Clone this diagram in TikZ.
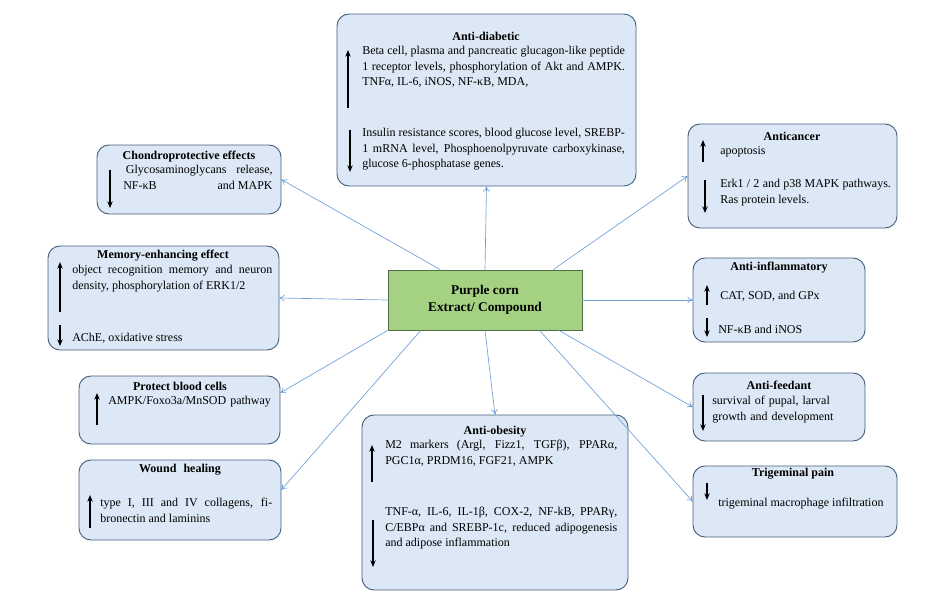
\documentclass[tikz,border=0pt]{standalone}
\usepackage{fontspec}
\setmainfont{Liberation Serif}
\usetikzlibrary{arrows.meta,calc}
\definecolor{boxfill}{RGB}{220,232,245}
\definecolor{boxline}{RGB}{70,95,125}
\definecolor{cfill}{RGB}{165,210,130}
\definecolor{cline}{RGB}{80,110,70}
\definecolor{conn}{RGB}{110,160,215}
\tikzset{
 bx/.style={draw=boxline,fill=boxfill,rounded corners=9pt,line width=0.7pt},
 ttl/.style={font=\fontsize{9}{11.6}\selectfont\bfseries,inner sep=0pt},
 txt/.style={font=\fontsize{9}{11.6}\selectfont,inner sep=0pt,align=justify,anchor=north west},
 ar/.style={-{Stealth[length=5pt,width=4pt]},line width=1.1pt,black},
 cn/.style={draw=conn,line width=0.5pt,-{To[length=4pt,width=5pt]}}
}
\begin{document}
\begin{tikzpicture}[x=0.75pt,y=-0.75pt]
\useasboundingbox (0,0) rectangle (936,597);
% boxes
\path[bx] (337,14) rectangle (636,186) coordinate[pos=0.5] (diabc);
\node[inner sep=0,minimum width=224.25pt,minimum height=129pt] (diab) at (486.5,100) {};
\path[bx] (97,145) rectangle (281,214);
\node[inner sep=0,minimum width=138pt,minimum height=51.75pt] (chon) at (189,179.5) {};
\path[bx] (48,246) rectangle (279,350);
\node[inner sep=0,minimum width=173.25pt,minimum height=78pt] (mem) at (163.5,298) {};
\path[bx] (79,376) rectangle (280,444);
\node[inner sep=0,minimum width=150.75pt,minimum height=51pt] (prot) at (179.5,410) {};
\path[bx] (79,460) rectangle (281,540);
\node[inner sep=0,minimum width=151.5pt,minimum height=60pt] (wound) at (180,500) {};
\path[bx] (362,415) rectangle (628,590);
\node[inner sep=0,minimum width=199.5pt,minimum height=131.25pt] (obes) at (495,502.5) {};
\path[bx] (688,124) rectangle (897,228);
\node[inner sep=0,minimum width=156.75pt,minimum height=78pt] (canc) at (792.5,176) {};
\path[bx] (693,258) rectangle (865,342);
\node[inner sep=0,minimum width=129pt,minimum height=63pt] (infl) at (779,300) {};
\path[bx] (693,373) rectangle (865,441);
\node[inner sep=0,minimum width=129pt,minimum height=51pt] (feed) at (779,407) {};
\path[bx] (693,466) rectangle (897,537);
\node[inner sep=0,minimum width=153pt,minimum height=53.25pt] (trig) at (795,501.5) {};
% center
\node[draw=cline,fill=cfill,line width=0.7pt,minimum width=145.5pt,minimum height=45pt,align=center,font=\fontsize{10}{13}\selectfont\bfseries] (c) at (485,300) {Purple corn\\Extract/ Compound};
% connectors
\draw[cn] (c.north) -- (diab.south);
\draw[cn] ($(c.north west)!0.27!(c.north east)$) -- (chon.east);
\draw[cn] (c.west) -- (mem.east);
\draw[cn] (c.south west) -- ($(prot.north east)!0.25!(prot.south east)$);
\draw[cn] ($(c.south west)!0.17!(c.south east)$) -- ($(wound.north east)!0.375!(wound.south east)$);
\draw[cn] (c.south) -- (obes.north);
\draw[cn] ($(c.north west)!0.85!(c.north east)$) -- (canc.west);
\draw[cn] (c.east) -- (infl.west);
\draw[cn] ($(c.south west)!0.88!(c.south east)$) -- (feed.west);
\draw[cn] ($(c.south west)!0.78!(c.south east)$) -- (trig.west);
% Anti-diabetic
\node[ttl] at (486,36) {Anti-diabetic};
\node[txt,text width=197pt] at (362,46) {Beta cell, plasma and pancreatic glucagon-like peptide 1 receptor levels, phosphorylation of Akt and AMPK. TNFα, IL-6, iNOS, NF-κB, MDA,};
\node[txt,text width=197pt] at (362,128) {Insulin resistance scores, blood glucose level, SREBP-1 mRNA level, Phosphoenolpyruvate carboxykinase, glucose 6-phosphatase genes.};
\draw[ar] (348,108) -- (348,50);
\draw[ar] (350,130) -- (350,172);
% Chondro
\node[ttl] at (189,157) {Chondroprotective effects};
\node[txt,text width=112pt] at (123,165) {\hspace*{2pt}Glycosaminoglycans release,\hfill NF-κB\hfill and MAPK};
\draw[ar] (110,170) -- (110,208);
% Memory
\node[ttl] at (163,256) {Memory-enhancing effect};
\node[txt,text width=150pt] at (72,265) {object recognition memory and neuron density, phosphorylation of ERK1/2};
\node[txt,text width=150pt] at (72,333) {AChE, oxidative stress};
\draw[ar] (60,312) -- (60,262);
\draw[ar] (60,325) -- (60,346);
% Protect
\node[ttl] at (180,386) {Protect blood cells};
\node[txt,text width=130pt,align=left] at (108,396) {AMPK/Foxo3a/MnSOD pathway};
\draw[ar] (97,425) -- (97,393);
% Wound
\node[ttl] at (180,470) {Wound\hspace{3pt} healing};
\node[txt,text width=129pt] at (100,498) {type I, III and IV collagens, fibronectin and laminins};
\draw[ar] (90,528) -- (90,495);
% Obesity
\node[ttl] at (495,432) {Anti-obesity};
\node[txt,text width=174pt] at (385,440) {M2 markers (Argl, Fizz1, TGFβ), PPARα, PGC1α, PRDM16, FGF21, AMPK};
\node[txt,text width=174pt] at (385,507) {TNF-α, IL-6, IL-1β, COX-2, NF-kB, PPARγ, C/EBPα and SREBP-1c, reduced adipogenesis and adipose inflammation};
\draw[ar] (372,482) -- (372,445);
\draw[ar] (373,520) -- (373,567);
% Anticancer
\node[ttl] at (792,136) {Anticancer};
\node[txt,text width=128pt] at (720,146) {apoptosis};
\node[txt,text width=128pt] at (720,179) {Erk1 / 2 and p38 MAPK pathways. Ras protein levels.};
\draw[ar] (703,162) -- (703,140);
\draw[ar] (705,180) -- (705,213);
% Anti-inflammatory
\node[ttl] at (779,268) {Anti-inflammatory};
\node[txt,text width=120pt] at (720,291) {CAT, SOD, and GPx};
\node[txt,text width=120pt] at (718,325) {NF-κB and iNOS};
\draw[ar] (707,305) -- (707,285);
\draw[ar] (707,318) -- (707,337);
% Anti-feedant
\node[ttl] at (779,385) {Anti-feedant};
\node[txt,text width=112pt,align=left] at (712,396) {survival of pupal, larval growth and development};
\draw[ar] (703,395) -- (703,431);
% Trigeminal
\node[ttl] at (793,474) {Trigeminal pain};
\node[txt,text width=127pt] at (718,498) {trigeminal macrophage infiltration};
\draw[ar] (707,483) -- (707,500);
\end{tikzpicture}
\end{document}
